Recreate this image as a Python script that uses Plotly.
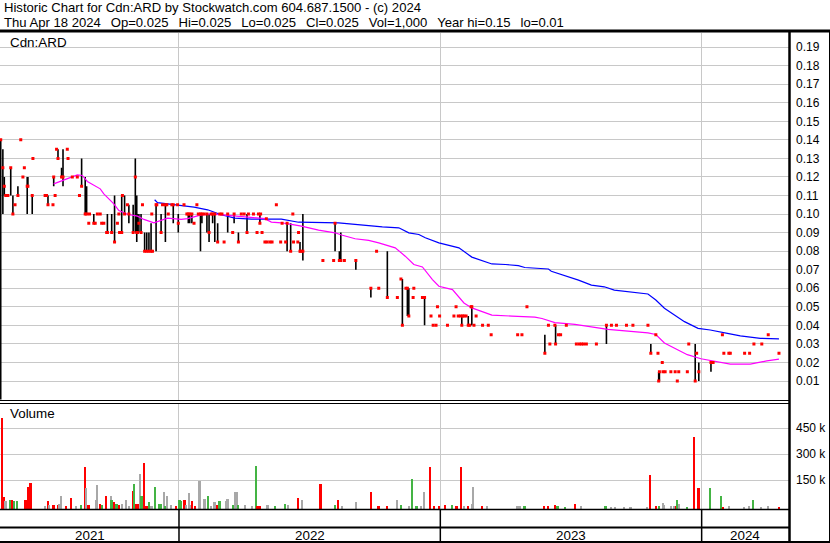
import pandas as pd
import plotly.graph_objects as go

# ---------------- data ----------------
price_dates = [
    "2021-04-27","2021-04-30","2021-05-02","2021-05-04","2021-05-07","2021-05-11","2021-05-14","2021-05-17","2021-05-21","2021-05-25",
    "2021-05-28","2021-05-30","2021-06-03","2021-06-04","2021-06-10","2021-06-11","2021-06-28","2021-06-30","2021-07-02","2021-07-09",
    "2021-07-10","2021-07-12","2021-07-14","2021-07-16","2021-07-21","2021-07-23","2021-07-29","2021-07-30","2021-08-05","2021-08-12",
    "2021-08-15","2021-08-18","2021-08-23","2021-08-25","2021-08-28","2021-08-29","2021-09-04","2021-09-06","2021-09-09","2021-09-13",
    "2021-09-15","2021-09-18","2021-09-22","2021-09-23","2021-09-29","2021-10-03","2021-10-07","2021-10-09","2021-10-10","2021-10-13",
    "2021-10-14","2021-10-17","2021-10-21","2021-10-23","2021-10-29","2021-11-01","2021-11-03","2021-11-04","2021-11-06","2021-11-09",
    "2021-11-11","2021-11-14","2021-11-17","2021-11-20","2021-11-23","2021-11-24","2021-11-25","2021-11-30","2021-12-01","2021-12-07",
    "2021-12-09","2021-12-13","2021-12-15","2021-12-17","2021-12-22","2021-12-24","2021-12-30","2021-12-31","2022-01-08","2022-01-12",
    "2022-01-14","2022-01-16","2022-01-19","2022-01-22","2022-01-26","2022-01-28","2022-01-31","2022-02-02","2022-02-05","2022-02-09",
    "2022-02-12","2022-02-15","2022-02-17","2022-02-20","2022-02-24","2022-02-27","2022-03-02","2022-03-05","2022-03-10","2022-03-17",
    "2022-03-19","2022-03-25","2022-03-29","2022-04-02","2022-04-06","2022-04-08","2022-04-15","2022-04-20","2022-04-22","2022-04-24",
    "2022-04-25","2022-04-27","2022-05-01","2022-05-03","2022-05-04","2022-05-08","2022-05-11","2022-05-17","2022-05-23","2022-05-25",
    "2022-05-30","2022-06-01","2022-06-06","2022-06-09","2022-06-10","2022-06-16","2022-06-17","2022-06-19","2022-06-20","2022-06-23",
    "2022-07-21","2022-08-05","2022-08-07","2022-08-13","2022-08-15","2022-08-20","2022-09-05","2022-09-26","2022-10-04","2022-10-07",
    "2022-10-19","2022-11-02","2022-11-07","2022-11-09","2022-11-14","2022-11-16","2022-11-18","2022-11-24","2022-11-25","2022-12-07",
    "2022-12-10","2022-12-19","2022-12-22","2022-12-26","2022-12-28","2022-12-31","2023-01-11","2023-01-20","2023-01-23","2023-01-26",
    "2023-01-29","2023-01-31","2023-02-01","2023-02-03","2023-02-06","2023-02-09","2023-02-11","2023-02-13","2023-02-14","2023-02-17",
    "2023-02-20","2023-03-01","2023-03-09","2023-03-13","2023-04-19","2023-04-25","2023-05-02","2023-05-27","2023-06-01","2023-06-03",
    "2023-06-10","2023-06-11","2023-06-15","2023-06-18","2023-06-26","2023-07-10","2023-07-14","2023-07-17","2023-07-20","2023-07-24",
    "2023-08-07","2023-08-21","2023-08-28","2023-09-04","2023-09-18","2023-09-27","2023-10-18","2023-10-22","2023-10-29","2023-11-01",
    "2023-11-02","2023-11-03","2023-11-07","2023-11-08","2023-11-11","2023-11-19","2023-11-25","2023-11-28","2023-11-30","2023-12-12",
    "2023-12-14","2023-12-23","2023-12-25","2023-12-28","2024-01-14","2024-01-17","2024-01-30","2024-02-01","2024-02-08","2024-02-10",
    "2024-03-01","2024-03-08","2024-03-14","2024-03-25","2024-04-03","2024-04-18",
]
price_high = [
    .14,.135,.12,.11,.11,.125,.11,.105,.115,.14,
    .12,.125,.12,.12,.11,.13,.11,.11,.11,.105,
    .12,.11,.135,.135,.125,.135,.135,.13,.12,.12,
    .11,.13,.12,.115,.095,.10,.10,.095,.10,.10,
    .095,.095,.09,.10,.10,.11,.095,.10,.09,.11,
    .11,.11,.105,.105,.105,.13,.11,.10,.10,.10,
    .105,.09,.09,.09,.095,.10,.08,.105,.105,.10,
    .105,.105,.105,.10,.105,.105,.105,.10,.105,.10,
    .10,.10,.10,.095,.105,.10,.10,.10,.10,.10,
    .10,.10,.10,.10,.095,.10,.10,.085,.10,.09,
    .10,.09,.10,.10,.10,.10,.10,.09,.10,.10,
    .10,.09,.085,.0975,.085,.085,.085,.105,.085,.095,
    .085,.095,.095,.10,.085,.085,.09,.085,.08,.10,
    .075,.075,.095,.08,.09,.075,.075,.06,.08,.06,
    .08,.055,.065,.065,.06,.06,.06,.055,.06,.055,
    .055,.045,.04,.04,.05,.045,.04,.045,.05,.045,
    .045,.045,.045,.045,.045,.045,.04,.05,.05,.04,
    .045,.04,.04,.035,.035,.035,.05,.035,.04,.03,
    .04,.04,.035,.035,.04,.03,.03,.03,.03,.03,
    .03,.04,.04,.04,.04,.04,.04,.03,.035,.025,
    .015,.015,.02,.015,.015,.015,.015,.01,.015,.015,
    .03,.03,.025,.02,.02,.02,.035,.025,.025,.025,
    .025,.025,.03,.03,.035,.025,
]
price_low = [
    .00,.10,.11,.11,.11,.11,.10,.105,.11,.14,
    .12,.125,.10,.115,.10,.13,.11,.11,.105,.105,
    .115,.11,.135,.13,.12,.115,.135,.13,.12,.12,
    .11,.115,.10,.10,.095,.10,.095,.095,.10,.10,
    .095,.095,.09,.09,.09,.085,.095,.10,.09,.09,
    .11,.10,.105,.095,.09,.09,.085,.09,.09,.09,
    .105,.08,.08,.08,.08,.10,.08,.08,.105,.09,
    .105,.085,.105,.10,.105,.095,.105,.09,.105,.10,
    .095,.095,.095,.095,.105,.10,.08,.095,.10,.09,
    .085,.10,.095,.085,.085,.10,.10,.085,.09,.09,
    .095,.085,.10,.10,.09,.10,.10,.09,.10,.095,
    .10,.09,.085,.0975,.085,.085,.085,.105,.085,.095,
    .085,.08,.08,.10,.085,.085,.09,.08,.08,.075,
    .075,.075,.08,.075,.075,.075,.07,.055,.08,.06,
    .055,.055,.065,.04,.06,.045,.045,.055,.06,.055,
    .04,.045,.04,.04,.05,.045,.04,.045,.05,.045,
    .045,.04,.045,.045,.045,.04,.04,.05,.04,.04,
    .045,.04,.04,.035,.035,.035,.05,.025,.04,.03,
    .04,.03,.035,.035,.04,.03,.03,.03,.03,.03,
    .03,.03,.04,.04,.04,.04,.04,.025,.035,.025,
    .01,.01,.02,.015,.015,.015,.015,.01,.015,.015,
    .03,.01,.025,.01,.015,.02,.035,.025,.025,.025,
    .025,.025,.03,.03,.035,.025,
]
price_close = [
    .14,.125,.115,.11,.11,.125,.10,.105,.11,.14,
    .12,.125,.115,.115,.11,.13,.11,.11,.105,.105,
    .12,.11,.135,.13,.12,.12,.135,.13,.12,.12,
    .11,.115,.10,.10,.095,.10,.095,.095,.10,.10,
    .095,.095,.09,.09,.09,.085,.095,.10,.09,.09,
    .11,.10,.105,.10,.09,.12,.09,.09,.095,.09,
    .105,.08,.08,.08,.08,.10,.08,.105,.105,.09,
    .105,.105,.105,.10,.105,.105,.105,.095,.105,.10,
    .10,.10,.10,.095,.105,.10,.10,.10,.10,.10,
    .09,.10,.10,.10,.085,.10,.10,.085,.10,.09,
    .10,.085,.10,.10,.09,.10,.10,.09,.10,.095,
    .10,.09,.085,.0975,.085,.085,.085,.105,.085,.095,
    .085,.095,.08,.10,.085,.085,.09,.08,.08,.08,
    .075,.075,.095,.075,.075,.075,.075,.06,.08,.06,
    .055,.055,.065,.04,.06,.06,.045,.055,.06,.055,
    .055,.045,.04,.04,.05,.045,.04,.045,.05,.045,
    .045,.04,.045,.045,.045,.04,.04,.05,.05,.04,
    .045,.04,.04,.035,.035,.035,.05,.025,.04,.03,
    .04,.03,.035,.035,.04,.03,.03,.03,.03,.03,
    .03,.04,.04,.04,.04,.04,.04,.025,.035,.025,
    .01,.015,.02,.015,.015,.015,.015,.01,.015,.015,
    .03,.01,.025,.015,.02,.02,.035,.025,.025,.025,
    .025,.025,.03,.03,.035,.025,
]

ma_fast_dates = [
    "2021-07-10","2021-08-12","2021-08-19","2021-08-26","2021-09-13","2021-09-18","2021-10-02","2021-10-09","2021-10-21","2021-11-04",
    "2021-11-13","2021-11-27","2021-12-16","2022-01-04","2022-01-13","2022-02-01","2022-02-15","2022-03-10","2022-03-19","2022-05-01",
    "2022-05-10","2022-05-24","2022-06-07","2022-06-21","2022-07-15","2022-08-07","2022-08-16","2022-09-04","2022-09-23","2022-10-07",
    "2022-10-30","2022-11-13","2022-11-25","2022-12-07","2022-12-21","2022-12-30","2023-01-18","2023-02-03","2023-02-14","2023-03-05",
    "2023-03-14","2023-04-11","2023-05-13","2023-05-23","2023-06-05","2023-06-10","2023-07-08","2023-07-26","2023-08-23","2023-10-18",
    "2023-10-29","2023-11-10","2023-11-24","2023-12-12","2023-12-31","2024-01-18","2024-02-10","2024-03-09","2024-04-01","2024-04-18",
]
ma_fast = [
    .1163,.1211,.1208,.1176,.1136,.1109,.1055,.1019,.0999,.0989,
    .0971,.0953,.0978,.0971,.0975,.0996,.1001,.0992,.0989,.0975,
    .0957,.0953,.0944,.0935,.0913,.0899,.0887,.0867,.0858,.0845,
    .0818,.0773,.0728,.0715,.0647,.0611,.0593,.0521,.0494,.0467,
    .0455,.0450,.0444,.0437,.0422,.0415,.0405,.0396,.0378,.0360,
    .0351,.0305,.0278,.0242,.0220,.0209,.0191,.0191,.0209,.0218,
]

ma_slow_dates = [
    "2021-11-28","2021-12-02","2021-12-16","2022-01-08","2022-01-22","2022-02-10","2022-03-01","2022-03-20","2022-04-12","2022-05-24",
    "2022-06-17","2022-08-12","2022-08-30","2022-10-12","2022-11-04","2022-11-18","2022-12-02","2022-12-11","2022-12-30","2023-01-08",
    "2023-01-27","2023-02-14","2023-02-28","2023-03-14","2023-04-02","2023-04-20","2023-04-29","2023-05-13","2023-06-01","2023-06-05",
    "2023-07-13","2023-07-31","2023-08-18","2023-09-01","2023-09-24","2023-10-18","2023-10-29","2023-11-10","2023-11-24","2023-12-08",
    "2023-12-27","2024-01-13","2024-02-06","2024-02-24","2024-03-23","2024-04-18",
]
ma_slow = [
    .1077,.1062,.1055,.1045,.1037,.1023,.0996,.0978,.0973,.0973,
    .0956,.0953,.0946,.0931,.0926,.0899,.0890,.0872,.0845,.0836,
    .0818,.0768,.0751,.0731,.0728,.0722,.0712,.0708,.0704,.0692,
    .0644,.0617,.0608,.0590,.0578,.0569,.0537,.0492,.0456,.0420,
    .0384,.0375,.0357,.0343,.0330,.0327,
]

vol_dates = [
    "2021-04-29","2021-05-02","2021-05-04","2021-05-10","2021-05-12","2021-05-13","2021-05-16","2021-05-20","2021-06-01","2021-06-04",
    "2021-06-08","2021-06-28","2021-07-02","2021-07-04","2021-07-10","2021-07-17","2021-07-18","2021-07-21","2021-07-28","2021-08-04",
    "2021-08-11","2021-08-18","2021-08-23","2021-08-25","2021-08-28","2021-09-07","2021-09-09","2021-09-13","2021-09-16","2021-09-21",
    "2021-09-28","2021-09-29","2021-10-03","2021-10-06","2021-10-09","2021-10-14","2021-10-19","2021-10-23","2021-10-29","2021-10-31",
    "2021-11-02","2021-11-05","2021-11-08","2021-11-10","2021-11-14","2021-11-17","2021-11-21","2021-11-24","2021-11-29","2021-12-05",
    "2021-12-07","2021-12-11","2021-12-13","2021-12-15","2021-12-21","2021-12-28","2022-01-02","2022-01-04","2022-01-09","2022-01-11",
    "2022-01-15","2022-01-17","2022-01-20","2022-01-24","2022-01-30","2022-02-05","2022-02-06","2022-02-11","2022-02-15","2022-02-20",
    "2022-02-23","2022-02-27","2022-03-08","2022-03-10","2022-03-18","2022-03-21","2022-03-23","2022-03-25","2022-04-04","2022-04-13",
    "2022-04-19","2022-04-21","2022-04-24","2022-05-05","2022-05-06","2022-05-16","2022-05-29","2022-06-02","2022-06-17","2022-06-22",
    "2022-07-18","2022-08-07","2022-08-12","2022-08-17","2022-09-05","2022-09-26","2022-10-07","2022-10-19","2022-11-02","2022-11-07",
    "2022-11-18","2022-11-23","2022-11-29","2022-12-05","2022-12-10","2022-12-18","2022-12-23","2022-12-30","2023-01-08","2023-01-18",
    "2023-01-24","2023-01-30","2023-02-04","2023-02-09","2023-02-14","2023-02-16","2023-02-28","2023-03-07","2023-04-18","2023-04-22",
    "2023-04-29","2023-05-26","2023-06-01","2023-06-11","2023-06-14","2023-06-24","2023-07-08","2023-07-17","2023-08-20","2023-08-28",
    "2023-09-02","2023-09-15","2023-09-24","2023-10-17","2023-10-21","2023-10-30","2023-11-03","2023-11-08","2023-11-10","2023-11-19",
    "2023-11-24","2023-11-27","2023-11-28","2023-12-01","2023-12-12","2023-12-22","2023-12-28","2024-01-13","2024-01-28","2024-01-31",
    "2024-02-08","2024-02-29","2024-03-07","2024-03-13","2024-03-24","2024-04-03","2024-04-18",
]
vol_values = [
    510000,56000,31000,42000,42000,40000,35000,35000,42000,117000,
    138000,3000,31000,8000,8000,8000,17000,60000,4000,48000,
    3000,8000,227000,106000,12000,42000,123000,19000,10000,60000,
    62000,42000,25000,19000,8000,17000,42000,5000,94000,129000,
    17000,15000,192000,62000,250000,3000,25000,4000,112000,19000,
    19000,83000,3000,65000,13000,3000,37000,31000,42000,13000,
    77000,13000,31000,4000,146000,25000,46000,60000,4000,25000,
    8000,31000,31000,46000,8000,88000,85000,13000,13000,3000,
    233000,4000,4000,8000,6000,3000,19000,8000,48000,37000,
    129000,8000,37000,4000,25000,83000,3000,4000,37000,8000,
    3000,163000,4000,6000,88000,227000,3000,3000,8000,8000,
    3000,227000,3000,3000,19000,117000,2000,3000,3000,3000,
    2000,3000,2000,8000,2000,1000,19000,3000,3000,1000,
    1000,1000,1000,1000,181000,2000,3000,23000,8000,2000,
    2000,3000,37000,19000,1000,400000,106000,106000,65000,1000,
    2000,1000,3000,42000,1000,3000,1000,
]
# d = down day (red), u = up day (green), n = unchanged (grey)
vol_dir = [
    "d","d","n","u","u","d","u","u","d","d",
    "d","n","d","n","d","d","n","n","d","d",
    "n","u","d","n","d","n","n","d","u","d",
    "n","u","d","u","d","n","n","n","d","u",
    "d","d","n","u","d","d","u","n","u","u",
    "u","n","u","n","n","d","u","u","d","n",
    "n","n","d","d","n","d","n","u","n","n",
    "d","u","n","n","u","n","n","u","n","n",
    "u","d","d","n","n","u","u","n","d","n",
    "d","u","d","n","n","d","d","d","n","u",
    "n","u","u","n","n","d","d","d","d","u",
    "d","d","n","d","n","n","d","n","n","n",
    "u","d","d","d","u","u","d","n","u","n",
    "n","n","n","n","d","d","u","n","n","n",
    "n","d","u","n","u","d","d","u","u","d",
    "n","n","n","u","n","n","d",
]

year_labels = ["2021", "2022", "2023", "2024"]
year_starts = ["2022-01-01", "2023-01-01", "2024-01-01"]
x_start, x_end = "2021-04-26", "2024-05-02"
price_ticks = [0.01, 0.02, 0.03, 0.04, 0.05, 0.06, 0.07, 0.08, 0.09, 0.10,
               0.11, 0.12, 0.13, 0.14, 0.15, 0.16, 0.17, 0.18, 0.19]
vol_ticks = [150000, 300000, 450000]
vol_tick_labels = ["150 k", "300 k", "450 k"]

title_1 = "Historic Chart for Cdn:ARD by Stockwatch.com 604.687.1500 - (c) 2024"
title_2 = "\u00a0\u00a0\u2009".join(["Thu Apr 18 2024", "Op=0.025", "Hi=0.025", "Lo=0.025",
                                      "Cl=0.025", "Vol=1,000", "Year hi=0.15", "lo=0.01"])

# ---------------- layout geometry (pixels) ----------------
W, H = 830, 543
ML, MR, MT, MB = 0, 41, 33, 34
PW, PH = W - ML - MR, H - MT - MB
def px(x):
    return (x - ML) / PW
def py(y):
    return (H - MB - y) / PH

PRICE_RANGE = [-0.0005, 0.1976]
VOL_BASE = -15600
VOL_RANGE = [VOL_BASE, 593000]

FONT = "Liberation Sans, Arial, sans-serif"
GRID = "#c8c8c8"
RED, GREEN, GREY = "#ff0000", "#44b444", "#a8a8a8"

# ---------------- traces ----------------
seg_x, seg_y = [], []
for d, hi, lo in zip(price_dates, price_high, price_low):
    if hi > lo:
        seg_x += [d, d, None]
        seg_y += [lo, hi, None]

fig = go.Figure()
fig.add_trace(go.Scatter(x=seg_x, y=seg_y, mode="lines", line=dict(color="black", width=1.6),
                         xaxis="x", yaxis="y", hoverinfo="skip"))
fig.add_trace(go.Scatter(x=ma_slow_dates, y=ma_slow, mode="lines", line=dict(color="#0000ff", width=1.2),
                         xaxis="x", yaxis="y"))
fig.add_trace(go.Scatter(x=ma_fast_dates, y=ma_fast, mode="lines", line=dict(color="#ff00ff", width=1.2),
                         xaxis="x", yaxis="y"))
fig.add_trace(go.Scatter(x=price_dates, y=price_close, mode="markers",
                         marker=dict(symbol="square", size=3, color=RED, line=dict(width=0)),
                         xaxis="x", yaxis="y"))
cmap = {"d": RED, "u": GREEN, "n": GREY}
fig.add_trace(go.Bar(x=vol_dates, y=[v - VOL_BASE for v in vol_values], base=VOL_BASE,
                     marker=dict(color=[cmap[c] for c in vol_dir], line=dict(width=0)),
                     width=2.3 * 86400000, xaxis="x2", yaxis="y2"))

# ---------------- axes ----------------
price_bottom = py(400.5)
vol_top = py(403.5)
xcommon = dict(type="date", range=[x_start, x_end], tickvals=year_starts, showticklabels=False,
               showgrid=True, gridcolor=GRID, gridwidth=1, zeroline=False, showline=False, ticks="")
fig.update_layout(
    width=W, height=H, margin=dict(l=ML, r=MR, t=MT, b=MB),
    paper_bgcolor="white", plot_bgcolor="white", showlegend=False, bargap=0,
    xaxis=dict(domain=[0, 1], anchor="y", **xcommon),
    xaxis2=dict(domain=[0, 1], anchor="y2", matches="x", **xcommon),
    yaxis=dict(domain=[price_bottom, 1], anchor="x", side="right", range=PRICE_RANGE,
               tickvals=price_ticks, ticktext=["%.2f" % t for t in price_ticks],
               showgrid=True, gridcolor=GRID, zeroline=False, showline=False, ticks="",
               ticklabelstandoff=6, tickfont=dict(family=FONT, size=12, color="black")),
    yaxis2=dict(domain=[0, vol_top], anchor="x2", side="right", range=VOL_RANGE,
                tickvals=vol_ticks, ticktext=vol_tick_labels,
                showgrid=True, gridcolor=GRID, zeroline=False, showline=False, ticks="",
                ticklabelstandoff=6, tickfont=dict(family=FONT, size=12, color="black")),
)

# ---------------- frame lines ----------------
def hline(y, x0, x1, w):
    return dict(type="line", xref="paper", yref="paper", x0=px(x0), x1=px(x1), y0=py(y), y1=py(y),
                line=dict(color="black", width=w))
def vline(x, y0, y1, w):
    return dict(type="line", xref="paper", yref="paper", x0=px(x), x1=px(x), y0=py(y0), y1=py(y1),
                line=dict(color="black", width=w))

shapes = [
    hline(31, 0, W, 3),
    hline(400.5, 0, 789, 1),
    hline(403.5, 0, 789, 1),
    hline(509.5, 0, 789, 1.5),
    hline(527.5, 0, 789, 2),
    hline(542, 0, W, 2),
    vline(789.5, 30, H, 2.5),
    vline(829.5, 30, H, 1),
]
for ys in year_starts:
    shapes.append(dict(type="line", xref="x", yref="paper", x0=ys, x1=ys, y0=py(509), y1=py(542),
                       line=dict(color="black", width=1.5)))
fig.update_layout(shapes=shapes)

# ---------------- text ----------------
ann = [
    dict(text=title_1, x=px(2), y=py(8), xanchor="left", yanchor="middle", size=13.1),
    dict(text=title_2, x=px(2), y=py(22), xanchor="left", yanchor="middle", size=13.1),
    dict(text="Cdn:ARD", x=px(8), y=py(42), xanchor="left", yanchor="middle", size=13.4),
    dict(text="Volume", x=px(8), y=py(413), xanchor="left", yanchor="middle", size=13.4),
]
for a in ann:
    s = a.pop("size")
    a.update(xref="paper", yref="paper", showarrow=False, font=dict(family=FONT, size=s, color="black"))

bounds = [pd.Timestamp(x_start)] + [pd.Timestamp(s) for s in year_starts] + [pd.Timestamp(x_end)]
for lab, a, b in zip(year_labels, bounds[:-1], bounds[1:]):
    mid = a + (b - a) / 2
    ann.append(dict(text=lab, x=mid.strftime("%Y-%m-%d %H:%M"), xref="x", y=py(535), yref="paper",
                    xanchor="center", yanchor="middle", showarrow=False,
                    font=dict(family=FONT, size=13.4, color="black")))
fig.update_layout(annotations=ann)

fig.write_html("out.html", config={"displayModeBar": False},
               post_script="document.body.style.margin='0px';")
